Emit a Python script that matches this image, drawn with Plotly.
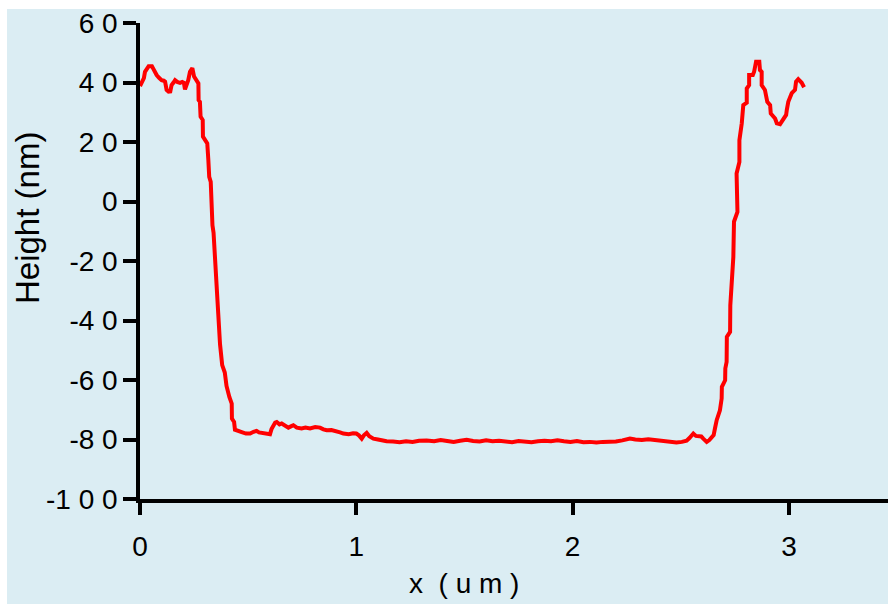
import plotly.graph_objects as go

# AFM line profile across a trench
x_um = [
    0.000, 0.010, 0.018, 0.023, 0.032, 0.040, 0.055, 0.062, 0.070, 0.077,
    0.088, 0.100, 0.110, 0.116, 0.123, 0.132, 0.140, 0.146, 0.155, 0.162,
    0.172, 0.185, 0.195, 0.203, 0.208, 0.215, 0.223, 0.231, 0.237, 0.242,
    0.250, 0.260, 0.270, 0.271, 0.277, 0.280, 0.290, 0.291, 0.305, 0.311,
    0.316, 0.320, 0.327, 0.330, 0.335, 0.340, 0.347, 0.352, 0.358, 0.362,
    0.370, 0.380, 0.392, 0.400, 0.413, 0.424, 0.425, 0.435, 0.439, 0.455,
    0.470, 0.490, 0.509, 0.525, 0.539, 0.550, 0.563, 0.585, 0.601, 0.608,
    0.616, 0.625, 0.632, 0.645, 0.655, 0.672, 0.686, 0.700, 0.709, 0.725,
    0.747, 0.765, 0.786, 0.810, 0.832, 0.848, 0.863, 0.885, 0.909, 0.925,
    0.940, 0.965, 0.985, 1.000, 1.012, 1.025, 1.035, 1.048, 1.060, 1.079,
    1.100, 1.120, 1.140, 1.170, 1.200, 1.230, 1.260, 1.290, 1.325, 1.360,
    1.390, 1.420, 1.450, 1.480, 1.510, 1.540, 1.570, 1.600, 1.630, 1.660,
    1.690, 1.720, 1.750, 1.780, 1.810, 1.840, 1.870, 1.900, 1.930, 1.960,
    1.990, 2.020, 2.050, 2.080, 2.110, 2.140, 2.170, 2.200, 2.230, 2.265,
    2.290, 2.320, 2.350, 2.390, 2.420, 2.450, 2.480, 2.505, 2.527, 2.540,
    2.558, 2.570, 2.581, 2.595, 2.604, 2.620, 2.632, 2.643, 2.652, 2.658,
    2.666, 2.681, 2.689, 2.690, 2.705, 2.706, 2.712, 2.713, 2.728, 2.729,
    2.743, 2.746, 2.762, 2.758, 2.771, 2.771, 2.782, 2.789, 2.805, 2.805,
    2.816, 2.816, 2.833, 2.839, 2.848, 2.863, 2.866, 2.874, 2.874, 2.889,
    2.900, 2.913, 2.916, 2.936, 2.944, 2.959, 2.974, 2.987, 2.990, 2.997,
    3.013, 3.028, 3.033, 3.043, 3.059, 3.070,
]
height_nm = [
    38.8, 40.0, 41.5, 43.6, 44.5, 45.5, 45.5, 44.6, 43.2, 42.5,
    41.6, 40.8, 40.6, 40.3, 37.5, 36.9, 37.0, 39.1, 40.0, 40.8,
    40.2, 39.9, 40.2, 39.9, 37.7, 39.2, 40.8, 43.6, 44.1, 44.8,
    42.0, 40.8, 39.7, 34.1, 33.5, 28.5, 27.4, 21.8, 20.2, 19.5,
    13.9, 8.3, 6.6, 0.0, -8.0, -10.5, -18.0, -25.0, -30.0, -38.0,
    -48.0, -55.0, -57.5, -62.0, -65.7, -67.9, -73.0, -74.1, -76.7, -77.3,
    -77.5, -78.0, -78.0, -77.4, -77.1, -77.6, -77.8, -78.2, -78.2, -76.5,
    -75.2, -74.3, -74.1, -74.9, -74.6, -75.6, -76.0, -75.5, -75.2, -76.0,
    -76.3, -76.0, -76.3, -75.8, -76.0, -76.6, -76.9, -76.8, -77.1, -77.6,
    -78.0, -78.2, -77.9, -78.0, -78.6, -79.7, -78.6, -77.8, -78.9, -79.7,
    -80.0, -80.3, -80.6, -80.7, -80.9, -80.6, -80.8, -80.4, -80.3, -80.6,
    -80.2, -80.5, -80.8, -80.4, -80.1, -80.5, -80.7, -80.3, -80.6, -80.4,
    -80.7, -80.9, -80.5, -80.7, -80.9, -80.6, -80.4, -80.6, -80.3, -80.6,
    -80.8, -80.5, -80.9, -80.8, -81.0, -80.8, -80.9, -80.7, -80.3, -79.7,
    -80.0, -80.2, -79.9, -80.3, -80.6, -80.9, -81.0, -80.8, -80.4, -79.5,
    -78.0, -78.8, -78.9, -79.0, -79.7, -80.8, -80.2, -79.4, -78.5, -76.3,
    -73.5, -70.2, -66.2, -62.3, -60.1, -56.1, -53.9, -45.5, -43.8, -34.9,
    -18.6, -6.8, -3.5, 9.4, 13.3, 20.6, 26.3, 32.4, 33.2, 38.0,
    39.1, 42.5, 42.5, 43.6, 47.0, 47.0, 44.2, 43.6, 39.1, 37.5,
    33.5, 32.4, 29.6, 27.9, 26.3, 26.0, 27.4, 29.1, 30.7, 33.5,
    36.4, 37.5, 40.3, 41.1, 39.9, 38.4,
]

x_ticks = [0, 1, 2, 3]
x_tick_text = ["0", "1", "2", "3"]
y_ticks = [60, 40, 20, 0, -20, -40, -60, -80, -100]
y_tick_text = ["6 0", "4 0", "2 0", "0", "-2 0", "-4 0", "-6 0", "-8 0", "-1 0 0"]

bg = "#dbedf3"
font = "Liberation Sans, Arial, sans-serif"

fig = go.Figure()
fig.add_trace(go.Scatter(
    x=x_um, y=height_nm, mode="lines",
    line=dict(color="#ff0000", width=4),
    showlegend=False, hoverinfo="x+y",
))

W, H = 888, 604
ml, mr, mt, mb = 140, 0, 23, 105
pw, ph = W - ml - mr, H - mt - mb


def px_x(p):
    return (p - ml) / pw


def px_y(p):
    return (H - mb - p) / ph


fig.update_layout(
    width=W, height=H,
    margin=dict(l=ml, r=mr, t=mt, b=mb, pad=0),
    paper_bgcolor=bg, plot_bgcolor=bg,
    font=dict(family=font, color="#000000"),
    xaxis=dict(
        range=[0, 3.458], tickvals=x_ticks, ticktext=x_tick_text,
        showline=True, linecolor="#000000", linewidth=3.5,
        ticks="outside", ticklen=12, tickwidth=3.5, tickcolor="#000000",
        showgrid=False, zeroline=False,
        tickfont=dict(size=28), ticklabelstandoff=8,
    ),
    yaxis=dict(
        range=[-100, 60], tickvals=y_ticks, ticktext=y_tick_text,
        showline=True, linecolor="#000000", linewidth=3.5,
        ticks="outside", ticklen=13, tickwidth=3.5, tickcolor="#000000",
        showgrid=False, zeroline=False,
        tickfont=dict(size=28), ticklabelstandoff=0,
    ),
    shapes=[
        # white frame strips along the top and left edges
        dict(type="rect", xref="paper", yref="paper", layer="below",
             x0=px_x(-2), x1=px_x(W + 2), y0=px_y(9), y1=px_y(-2),
             fillcolor="#ffffff", line=dict(width=0)),
        dict(type="rect", xref="paper", yref="paper", layer="below",
             x0=px_x(-2), x1=px_x(7), y0=px_y(H + 2), y1=px_y(-2),
             fillcolor="#ffffff", line=dict(width=0)),
    ],
    annotations=[
        dict(text="x  ( u m )", xref="paper", yref="paper",
             x=px_x(464), y=px_y(583),
             xanchor="center", yanchor="middle", showarrow=False,
             font=dict(size=28, family=font)),
        dict(text="Height (nm)", xref="paper", yref="paper",
             x=px_x(27), y=px_y(218), textangle=-90,
             xanchor="center", yanchor="middle", showarrow=False,
             font=dict(size=33, family=font)),
    ],
)

fig.write_html("out.html")
